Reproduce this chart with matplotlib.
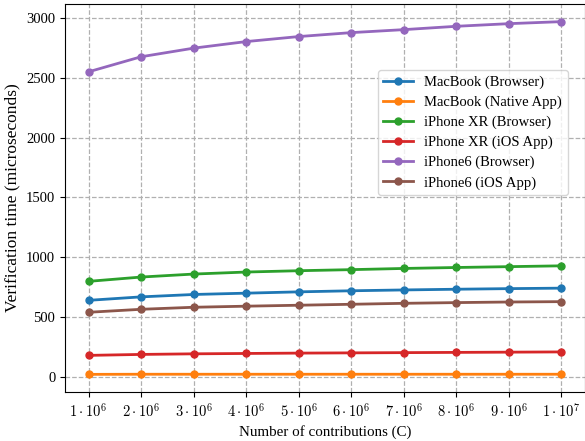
import matplotlib
matplotlib.use("Agg")
import matplotlib.pyplot as plt

plt.rcParams['font.family'] = 'Liberation Serif'
plt.rcParams['mathtext.fontset'] = 'cm'
plt.rcParams['font.size'] = 10

contributions = [1e6, 2e6, 3e6, 4e6, 5e6, 6e6, 7e6, 8e6, 9e6, 1e7]
tick_labels = [r'$1\cdot10^{6}$', r'$2\cdot10^{6}$', r'$3\cdot10^{6}$', r'$4\cdot10^{6}$',
               r'$5\cdot10^{6}$', r'$6\cdot10^{6}$', r'$7\cdot10^{6}$', r'$8\cdot10^{6}$',
               r'$9\cdot10^{6}$', r'$1\cdot10^{7}$']

macbook_browser = [638, 667, 687, 698, 709, 718, 725, 731, 736, 740]
macbook_native = [18, 19, 19, 19, 19, 19, 19, 19, 19, 19]
iphonexr_browser = [797, 833, 858, 875, 886, 895, 905, 913, 920, 927]
iphonexr_ios = [177, 185, 190, 193, 196, 198, 200, 202, 204, 206]
iphone6_browser = [2552, 2678, 2750, 2805, 2847, 2880, 2905, 2933, 2955, 2972]
iphone6_ios = [538, 563, 580, 589, 597, 605, 613, 619, 624, 627]

series = [
    ('MacBook (Browser)', macbook_browser),
    ('MacBook (Native App)', macbook_native),
    ('iPhone XR (Browser)', iphonexr_browser),
    ('iPhone XR (iOS App)', iphonexr_ios),
    ('iPhone6 (Browser)', iphone6_browser),
    ('iPhone6 (iOS App)', iphone6_ios),
]

fig = plt.figure(figsize=(5.85, 4.41), dpi=100)
ax = fig.add_axes([65 / 585, 1 - 392 / 441, 520 / 585, 388 / 441])

for name, values in series:
    ax.plot(contributions, values, marker='o', markersize=5, linewidth=2, label=name)

ax.set_xticks(contributions)
ax.set_xticklabels(tick_labels)
ax.tick_params(labelsize=10.5)
ax.set_xlabel('Number of contributions (C)', fontsize=10.8)
ax.set_ylabel('Verification time (microseconds)', fontsize=12.5)
ax.grid(True, linestyle='--', color='#b0b0b0', linewidth=0.9)
ax.legend(loc='upper right', bbox_to_anchor=(0.967, 0.83), borderaxespad=0,
          fontsize=10.5, labelspacing=0.45)

fig.savefig('out.png', dpi=100)
